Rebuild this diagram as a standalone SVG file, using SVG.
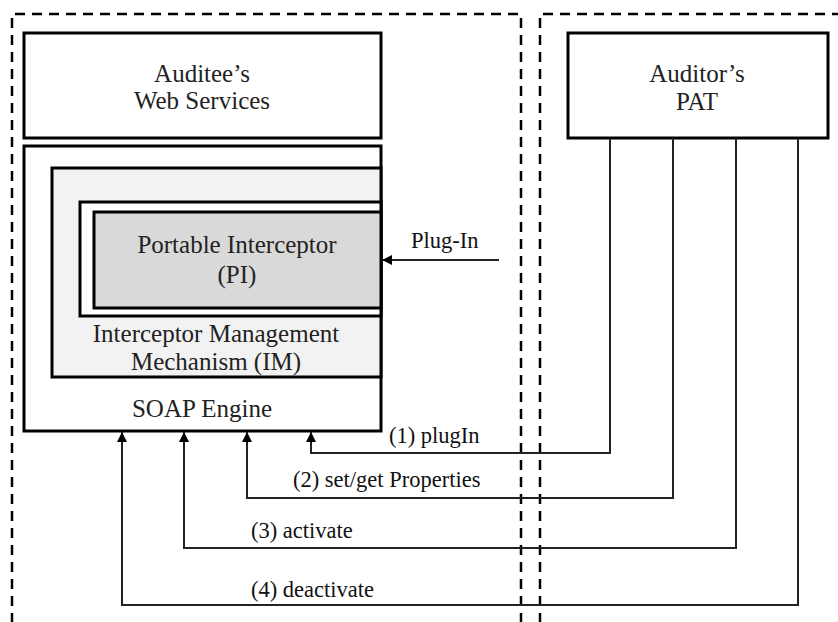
<svg xmlns="http://www.w3.org/2000/svg" width="838" height="622" viewBox="0 0 838 622">
<style>
.dash{fill:none;stroke:#000;stroke-width:2.5;stroke-dasharray:10 7}
.box{stroke:#000;stroke-width:3}
.t{font-family:"Liberation Serif","Times New Roman",serif;font-size:25px;fill:#222;text-anchor:middle}
.l{font-family:"Liberation Serif","Times New Roman",serif;font-size:22.5px;fill:#111}
.c{fill:none;stroke:#222;stroke-width:2}
</style>
<defs>
<marker id="ah" viewBox="0 0 10 10" refX="10" refY="5" markerWidth="10" markerHeight="10" markerUnits="userSpaceOnUse" orient="auto">
<path d="M0,0 L10,5 L0,10 z" fill="#000"/>
</marker>
</defs>
<rect width="838" height="622" fill="#fff"/>
<g id="auditee-zone"><path class="dash" d="M12,640 V14 H521 V640"/></g>
<g id="auditor-zone"><path class="dash" d="M540,640 V14 H850"/></g>
<g id="web-services">
<rect class="box" x="24" y="33" width="357" height="105" fill="#fff"/>
<text class="t" font-family="Liberation Serif, serif" x="202" y="82">Auditee’s</text>
<text class="t" font-family="Liberation Serif, serif" x="202" y="109">Web Services</text>
</g>
<g id="soap-engine">
<rect class="box" x="24" y="146" width="357" height="285" fill="#fff"/>
<text class="t" font-family="Liberation Serif, serif" x="202" y="417">SOAP Engine</text>
</g>
<g id="im">
<rect class="box" x="52" y="168" width="329" height="209" fill="#f2f2f2"/>
<text class="t" font-family="Liberation Serif, serif" x="216" y="342">Interceptor Management</text>
<text class="t" font-family="Liberation Serif, serif" x="216" y="370">Mechanism (IM)</text>
</g>
<g id="im-slot"><rect class="box" x="80" y="202" width="301" height="114" fill="#fff"/></g>
<g id="pi">
<rect class="box" x="94" y="212" width="287" height="96" fill="#d9d9d9"/>
<text class="t" font-family="Liberation Serif, serif" x="237" y="253">Portable Interceptor</text>
<text class="t" font-family="Liberation Serif, serif" x="237" y="283">(PI)</text>
</g>
<g id="pat">
<rect class="box" x="568" y="33" width="260" height="105" fill="#fff"/>
<text class="t" font-family="Liberation Serif, serif" x="697" y="82">Auditor’s</text>
<text class="t" font-family="Liberation Serif, serif" x="697" y="110">PAT</text>
</g>
<g id="connectors">
<line class="c" x1="499" y1="260" x2="382" y2="260" marker-end="url(#ah)"/>
<polyline class="c" points="610,138 610,453 311,453 311,432" marker-end="url(#ah)"/>
<polyline class="c" points="673,138 673,498 247,498 247,432" marker-end="url(#ah)"/>
<polyline class="c" points="736,138 736,548 184,548 184,432" marker-end="url(#ah)"/>
<polyline class="c" points="798,138 798,605 122,605 122,432" marker-end="url(#ah)"/>
</g>
<g id="labels">
<text class="l" x="411" y="248">Plug-In</text>
<text class="l" x="389" y="443">(1) plugIn</text>
<text class="l" x="293" y="487">(2) set/get Properties</text>
<text class="l" x="251" y="538">(3) activate</text>
<text class="l" x="251" y="597">(4) deactivate</text>
</g>
</svg>
